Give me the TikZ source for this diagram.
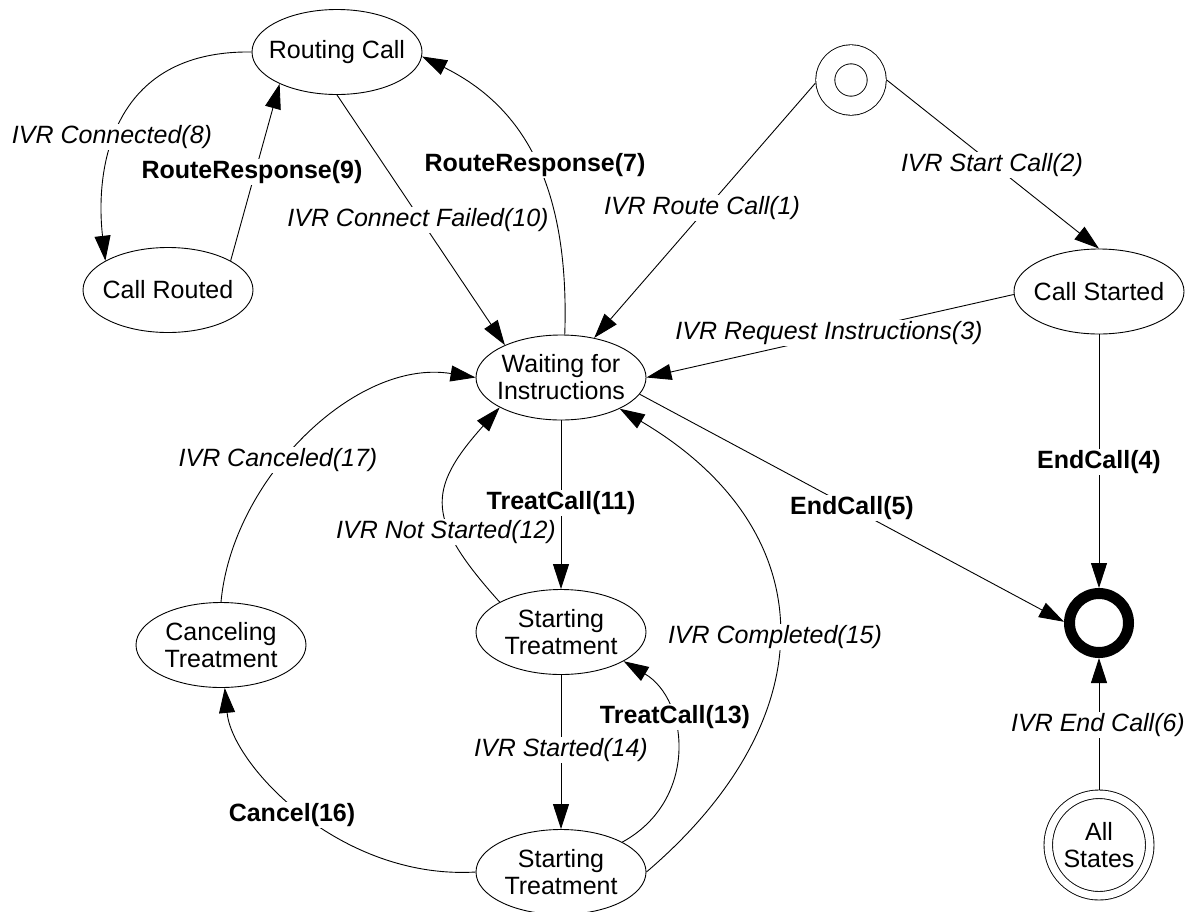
\documentclass[tikz,border=0pt]{standalone}
\usepackage{fontspec}
\setmainfont{Liberation Sans}
\usetikzlibrary{arrows.meta,shapes.geometric}
\newcommand{\diagfont}{\fontsize{25}{27}\selectfont}
\tikzset{
  state/.style={ellipse, draw, line width=0.9pt, minimum width=170pt, minimum height=85pt,
    inner xsep=-25pt, inner ysep=0pt, align=center, font=\diagfont},
  initst/.style={circle, draw, line width=0.9pt, double, double distance=18.1pt,
    minimum size=51.5pt, inner sep=0pt, outer sep=10pt},
  finalst/.style={circle, draw, line width=11pt, minimum size=59pt, inner sep=0pt, outer sep=5.5pt},
  allst/.style={circle, draw, line width=0.9pt, double, double distance=7.6pt,
    minimum size=101.5pt, inner sep=0pt, outer sep=4.75pt, align=center, font=\diagfont},
  conn/.style={draw, line width=0.9pt, -{Triangle[length=25pt,width=16pt]}},
  ilab/.style={fill=white, inner sep=1pt, font=\diagfont\itshape},
  blab/.style={fill=white, inner sep=1pt, font=\diagfont\bfseries}
}
\begin{document}
\begin{tikzpicture}[x=1pt,y=-1pt]
\useasboundingbox (0,0) rectangle (1192,911);
% states
\node[state] (routing) at (337,52) {Routing Call};
\node[state] (callrouted) at (168,290) {Call Routed};
\node[initst] (init) at (851,80) {};
\node[state] (callstarted) at (1099,291.5) {Call Started};
\node[state] (wait) at (561,377.5) {Waiting for\\Instructions};
\node[finalst] (final) at (1099,623) {};
\node[state] (cancel) at (221,645) {Canceling\\Treatment};
\node[state] (st1) at (561,632) {Starting\\Treatment};
\node[state] (st2) at (561,872) {Starting\\Treatment};
\node[allst] (all) at (1099,845) {All\\States};
% transitions
\draw[conn] (init.185) -- (wait.50);
\draw[conn] (init.east) -- (callstarted.north);
\draw[conn] (callstarted.182) -- (wait.east);
\draw[conn] (callstarted.south) -- (final.north);
\draw[conn] (wait.-12) -- (final.178);
\draw[conn] (all.north) -- (final.south);
\draw[conn] (wait.85) .. controls (570,180) and (520,105) .. (routing.-3);
\draw[conn] (routing.west) .. controls (110,50) and (95,170) .. (callrouted.155);
\draw[conn] (callrouted.25) -- (routing.209);
\draw[conn] (routing.south) -- (wait.150);
\draw[conn] (wait.south) -- (st1.north);
\draw[conn] (st1.154) .. controls (426,520) and (426,490) .. (wait.206);
\draw[conn] (st2.26) .. controls (699,800) and (689,700) .. (st1.-25);
\draw[conn] (st1.south) -- (st2.north);
\draw[conn] (st2.east) .. controls (828,717) and (825,530) .. (wait.-28);
\draw[conn] (st2.west) .. controls (340,880) and (232,765) .. (cancel.-85);
\draw[conn] (cancel.north) .. controls (232,480) and (355,358) .. (wait.west);
% labels
\node[ilab] (l1) at (702,208) {IVR Route Call(1)};
\node[ilab] (l2) at (992,165) {IVR Start Call(2)};
\node[ilab] (l3) at (829,333) {IVR Request Instructions(3)};
\node[blab] (l4) at (1099,462) {EndCall(4)};
\node[blab] (l5) at (852,508) {EndCall(5)};
\node[ilab] (l6) at (1098,725) {IVR End Call(6)};
\node[blab] (l7) at (535,165) {RouteResponse(7)};
\node[ilab] (l8) at (112,137) {IVR Connected(8)};
\node[blab] (l9) at (252,172) {RouteResponse(9)};
\node[ilab] (l10) at (418,220) {IVR Connect Failed(10)};
\node[blab] (l11) at (561,503) {TreatCall(11)};
\node[ilab] (l12) at (446,532) {IVR Not Started(12)};
\node[blab] (l13) at (675,717) {TreatCall(13)};
\node[ilab] (l14) at (561,750) {IVR Started(14)};
\node[ilab] (l15) at (775,637) {IVR Completed(15)};
\node[blab] (l16) at (292,815) {Cancel(16)};
\node[ilab] (l17) at (278,460) {IVR Canceled(17)};
\end{tikzpicture}
\end{document}
